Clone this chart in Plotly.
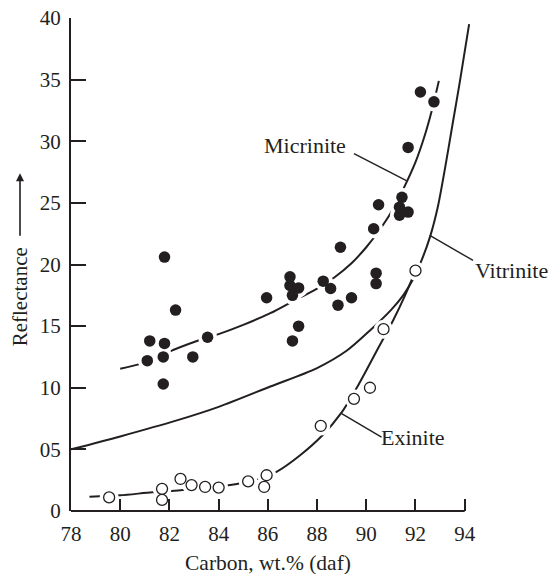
import plotly.graph_objects as go

# Measured reflectance vs. carbon content of coal macerals
micrinite_c = [81.2, 81.1, 81.75, 81.8, 81.75, 81.8, 82.25, 82.95, 83.55, 85.95,
               86.9, 86.9, 87.0, 87.25, 87.0, 87.25, 88.25, 88.55, 88.85, 88.95,
               89.4, 90.3, 90.4, 90.4, 90.5, 91.35, 91.45, 91.35, 91.7, 91.7,
               92.2, 92.75]
micrinite_r = [13.8, 12.2, 12.5, 13.6, 10.3, 20.6, 16.3, 12.5, 14.1, 17.3,
               19.0, 18.3, 17.5, 18.1, 13.8, 15.0, 18.65, 18.05, 16.7, 21.4,
               17.3, 22.9, 19.3, 18.45, 24.85, 24.65, 25.45, 24.0, 24.25, 29.5,
               34.0, 33.2]

exinite_c = [79.55, 81.7, 81.7, 82.45, 82.9, 83.45, 84.0, 85.2, 85.95, 85.85,
             88.15, 89.5, 90.15, 90.7, 92.0]
exinite_r = [1.1, 1.8, 0.9, 2.6, 2.1, 1.95, 1.9, 2.4, 2.9, 1.95,
             6.9, 9.1, 10.0, 14.75, 19.5]

# Trend curves
micrinite_fit_c = [80.0, 80.9, 82.2, 83.2, 84.0, 85.0, 86.1, 87.0, 88.0, 88.7,
                   89.4, 90.0, 90.5, 91.0, 91.5, 92.0, 92.35, 92.65, 92.95]
micrinite_fit_r = [11.55, 12.0, 13.1, 13.85, 14.35, 15.1, 16.05, 17.0, 18.05, 18.95,
                   20.1, 21.4, 22.7, 24.2, 26.1, 28.3, 30.3, 32.4, 34.9]

vitrinite_fit_c = [78.0, 80.0, 82.3, 84.0, 86.1, 88.0, 89.2, 90.15, 91.0, 91.5,
                   91.9, 92.25, 92.6, 92.9, 93.2, 93.5, 93.8, 94.18]
vitrinite_fit_r = [5.0, 6.05, 7.35, 8.45, 10.1, 11.6, 13.0, 14.65, 16.3, 17.5,
                   18.8, 20.35, 22.3, 24.6, 27.8, 31.3, 34.8, 39.5]

exinite_fit_c = [78.75, 80.0, 81.3, 82.0, 82.55, 83.5, 84.4, 84.95, 85.7, 86.35,
                 87.3, 88.2, 89.0, 89.7, 90.4, 91.1, 91.6, 92.0]
exinite_fit_r = [1.15, 1.27, 1.52, 1.6, 1.7, 1.9, 2.08, 2.27, 2.65, 3.17,
                 4.5, 6.1, 8.0, 10.3, 12.9, 15.5, 17.6, 19.5]

x_ticks = [78, 80, 82, 84, 86, 88, 90, 92, 94]
y_ticks = [0, 5, 10, 15, 20, 25, 30, 35, 40]
y_tick_text = ["0", "05", "10", "15", "20", "25", "30", "35", "40"]

# Curve labels: (text, text position, leader start, leader end)
labels = [
    ("Micrinite", (87.5, 29.65), (89.5, 29.0), (91.63, 26.8)),
    ("Vitrinite", (95.9, 19.5), (92.58, 22.36), (94.34, 20.33)),
    ("Exinite", (91.9, 6.0), (89.0, 7.9), (90.62, 6.0)),
]

INK = "#231f20"
FONT = "Liberation Serif"
X0, X1 = 78.0, 94.5
Y0, Y1 = 0.0, 40.0
ML, MR, MT, MB = 71, 74, 18, 63
PLOT_W = 551 - ML - MR
PLOT_H = 574 - MT - MB


def xp(x):
    return (x - X0) / (X1 - X0)


def yp(y):
    return (y - Y0) / (Y1 - Y0)


fig = go.Figure()

for cx, cy in [(micrinite_fit_c, micrinite_fit_r),
               (vitrinite_fit_c, vitrinite_fit_r),
               (exinite_fit_c, exinite_fit_r)]:
    fig.add_trace(go.Scatter(x=cx, y=cy, mode="lines",
                             line=dict(color=INK, width=2, shape="spline", smoothing=0.8),
                             hoverinfo="skip", showlegend=False))

# white halos that break the curves around each point
fig.add_trace(go.Scatter(x=micrinite_c, y=micrinite_r, mode="markers",
                         marker=dict(color="white", size=19), cliponaxis=False,
                         hoverinfo="skip", showlegend=False))
fig.add_trace(go.Scatter(x=exinite_c, y=exinite_r, mode="markers",
                         marker=dict(color="white", size=19), cliponaxis=False,
                         hoverinfo="skip", showlegend=False))

fig.add_trace(go.Scatter(x=micrinite_c, y=micrinite_r, mode="markers", name="Micrinite",
                         marker=dict(color=INK, size=11.5), cliponaxis=False,
                         showlegend=False))
fig.add_trace(go.Scatter(x=exinite_c, y=exinite_r, mode="markers", name="Exinite",
                         marker=dict(color="white", size=11, line=dict(color=INK, width=1.3)),
                         cliponaxis=False, showlegend=False))

shapes = [
    # x axis baseline from 78 to 94
    dict(type="line", xref="paper", yref="paper", x0=xp(78), x1=xp(94), y0=0, y1=0,
         line=dict(color=INK, width=2)),
]
annotations = []
for text, (tx, ty), (ax0, ay0), (ax1, ay1) in labels:
    shapes.append(dict(type="line", xref="paper", yref="paper",
                       x0=xp(ax0), y0=yp(ay0), x1=xp(ax1), y1=yp(ay1),
                       line=dict(color=INK, width=1.4)))
    annotations.append(dict(text=text, xref="paper", yref="paper", x=xp(tx), y=yp(ty),
                            showarrow=False, xanchor="center", yanchor="middle",
                            font=dict(family=FONT, size=22, color=INK)))

# axis titles
annotations.append(dict(text="Carbon, wt.% (daf)", xref="paper", yref="paper",
                        x=xp(86), y=-52 / PLOT_H, showarrow=False,
                        xanchor="center", yanchor="middle",
                        font=dict(family=FONT, size=21.5, color=INK)))
annotations.append(dict(text="Reflectance", xref="paper", yref="paper",
                        x=-51 / PLOT_W, y=(510.7 - 296) / PLOT_H, textangle=-90,
                        showarrow=False, xanchor="center", yanchor="middle",
                        font=dict(family=FONT, size=21, color=INK)))
annotations.append(dict(text="", xref="paper", yref="paper",
                        x=-51 / PLOT_W, y=(510.7 - 173) / PLOT_H,
                        showarrow=True, arrowhead=2, arrowsize=1, arrowwidth=1.6,
                        arrowcolor=INK, ax=0, ay=64))

fig.update_layout(
    width=551, height=574,
    margin=dict(l=ML, r=MR, t=MT, b=MB, autoexpand=False),
    paper_bgcolor="white", plot_bgcolor="white",
    font=dict(family=FONT, size=21, color=INK),
    shapes=shapes, annotations=annotations,
    xaxis=dict(range=[X0, X1], tickvals=x_ticks, ticks="inside", ticklen=12,
               tickwidth=1.8, tickcolor=INK, showline=False, showgrid=False,
               zeroline=False, ticklabelstandoff=8, automargin=False,
               tickfont=dict(family=FONT, size=21, color=INK)),
    yaxis=dict(range=[Y0, Y1], tickvals=y_ticks, ticktext=y_tick_text, ticks="inside",
               ticklen=15, tickwidth=1.8, tickcolor=INK, showline=True, linewidth=2,
               linecolor=INK, showgrid=False, zeroline=False, ticklabelstandoff=4,
               automargin=False,
               tickfont=dict(family=FONT, size=21, color=INK)),
)

fig.write_html("out.html")
